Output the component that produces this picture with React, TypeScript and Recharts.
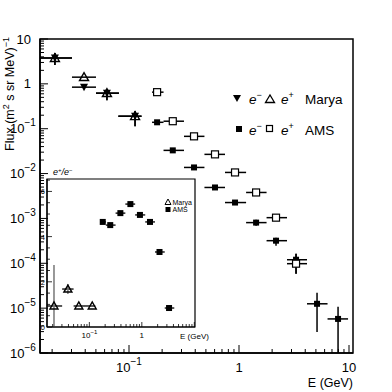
import React from 'react';
import { ScatterChart, Scatter, XAxis, YAxis, ErrorBar, ReferenceArea } from 'recharts';

const FONT = '"Liberation Sans", Arial, sans-serif';

// ---- Marya (balloon) data ----
const maryaEnergy = [0.0212, 0.039, 0.063, 0.1135];
const maryaEnergyLo = [0.0155, 0.0303, 0.0501, 0.08];
const maryaEnergyHi = [0.0303, 0.0501, 0.081, 0.13];
const maryaElectronFlux = [3.76, 0.844, 0.62, 0.19];
const maryaElectronLo = [2.62, 0.79, 0.43, 0.113];
const maryaElectronHi = [4.86, 0.9, 0.76, 0.245];
const maryaPositronFlux = [3.76, 1.41, 0.62, 0.19];
const maryaPositronLo = [2.62, 1.41, 0.43, 0.113];
const maryaPositronHi = [4.86, 1.41, 0.76, 0.245];

// ---- AMS data ----
const amsEnergy = [0.18, 0.25, 0.39, 0.605, 0.92, 1.43, 2.17, 3.3, 5.12, 7.95];
const amsEnergyLo = [0.162, 0.206, 0.316, 0.485, 0.746, 1.16, 1.78, 2.73, 4.15, 6.38];
const amsEnergyHi = [0.206, 0.316, 0.485, 0.746, 1.16, 1.78, 2.73, 4.15, 6.38, 9.8];
const amsElectronFlux = [0.139, 0.0329, 0.0137, 0.0049, 0.00226, 8.07e-4, 3.19e-4, 1.2e-4, 1.25e-5, 5.75e-6];
const amsElectronLo = [0.139, 0.0329, 0.0137, 0.0049, 0.00226, 6.9e-4, 2.47e-4, 5.83e-5, 2.94e-6, 1e-6];
const amsElectronHi = [0.139, 0.0329, 0.0137, 0.0049, 0.00226, 9.4e-4, 3.72e-4, 1.64e-4, 2.19e-5, 1.07e-5];
const amsPositronFlux = [0.653, 0.147, 0.0676, 0.0268, 0.0106, 0.00379, 0.00104, 9.8e-5];
const amsPositronLo = [0.653, 0.147, 0.0676, 0.0268, 0.0106, 0.00379, 0.00104, 5.83e-5];
const amsPositronHi = [0.653, 0.147, 0.0676, 0.0268, 0.0106, 0.00379, 0.00104, 1.64e-4];

// ---- e+/e- ratio (inset) ----
const maryaRatio = [0.93, 1.68, 0.93, 0.93];
const maryaRatioLo = [0, 1.46, 0.93, 0.93];
const maryaRatioHi = [2.74, 1.9, 0.93, 0.93];
const amsRatio = [4.65, 4.51, 5.04, 5.44, 4.96, 4.65, 3.32, 0.84];

// ---- axes ----
const X_DOMAIN: [number, number] = [0.01552, 10.87];
const Y_DOMAIN: [number, number] = [1e-6, 10];
const INSET_X_DOMAIN: [number, number] = [0.0156, 10.3];
const INSET_Y_DOMAIN: [number, number] = [0, 6.55];
const xDecades = [0.01, 0.1, 1];
const yDecades = [1e-6, 1e-5, 1e-4, 1e-3, 1e-2, 1e-1, 1];
const insetYLabels = [0, 2, 4, 6];

const logTicks = (decades: number[], lo: number, hi: number) => {
  const t: number[] = [];
  decades.forEach((d) => {
    for (let m = 1; m <= 9; m++) {
      const v = parseFloat((m * d).toPrecision(6));
      if (v >= lo && v <= hi) t.push(v);
    }
  });
  const top = decades[decades.length - 1] * 10;
  if (top >= lo && top <= hi) t.push(top);
  return t;
};
const xTicks = logTicks(xDecades, X_DOMAIN[0], X_DOMAIN[1]);
const yTicks = logTicks(yDecades, Y_DOMAIN[0], Y_DOMAIN[1]);
const insetXTicks = logTicks(xDecades, INSET_X_DOMAIN[0], INSET_X_DOMAIN[1]);
const insetYTicks: number[] = [];
for (let v = 0; v <= 6.5; v += 0.5) insetYTicks.push(v);

const build = (xs: number[], xlo: number[], xhi: number[], ys: number[], ylo: number[], yhi: number[]) =>
  ys.map((y, i) => ({
    x: xs[i],
    y,
    ex: [xs[i] - xlo[i], xhi[i] - xs[i]],
    ey: [y - ylo[i], yhi[i] - y],
  }));

const maryaElectronData = build(maryaEnergy, maryaEnergyLo, maryaEnergyHi, maryaElectronFlux, maryaElectronLo, maryaElectronHi);
const maryaPositronData = build(maryaEnergy, maryaEnergyLo, maryaEnergyHi, maryaPositronFlux, maryaPositronLo, maryaPositronHi);
const amsElectronData = build(amsEnergy, amsEnergyLo, amsEnergyHi, amsElectronFlux, amsElectronLo, amsElectronHi);
const amsPositronData = build(amsEnergy, amsEnergyLo, amsEnergyHi, amsPositronFlux, amsPositronLo, amsPositronHi);
const maryaRatioData = build(maryaEnergy, maryaEnergyLo, maryaEnergyHi, maryaRatio, maryaRatioLo, maryaRatioHi);
const amsRatioData = build(amsEnergy, amsEnergyLo, amsEnergyHi, amsRatio, amsRatio, amsRatio);

// ---- shapes ----
const DownTri = (p: any) => (
  <polygon points={`${p.cx - 4},${p.cy - 3.5} ${p.cx + 4},${p.cy - 3.5} ${p.cx},${p.cy + 4}`} fill="#000" />
);
const UpTri = (s: number) => (p: any) => (
  <polygon
    points={`${p.cx - s},${p.cy + s * 0.75} ${p.cx + s},${p.cy + s * 0.75} ${p.cx},${p.cy - s}`}
    fill="none"
    stroke="#000"
    strokeWidth={1.4}
  />
);
const FilledSq = (s: number) => (p: any) => <rect x={p.cx - s} y={p.cy - s} width={2 * s} height={2 * s} fill="#000" />;
const OpenSq = (p: any) => (
  <rect x={p.cx - 3.5} y={p.cy - 3.5} width={7} height={7} fill="#fff" stroke="#000" strokeWidth={1.2} />
);

const isMajor = (v: number) => {
  const l = Math.log10(v);
  return Math.abs(l - Math.round(l)) < 1e-6;
};
const supStr = (p: number) => (p < 0 ? '\u2212' + -p : String(p));

const MainYTick = (props: any) => {
  const { x, y, payload } = props;
  const v = payload.value;
  const major = isMajor(v);
  const p = Math.round(Math.log10(v));
  return (
    <g>
      <line x1={x} x2={x + (major ? 8 : 4)} y1={y} y2={y} stroke="#000" strokeWidth={1} />
      {major &&
        (p >= 0 ? (
          <text x={x - 9} y={y + 4.5} textAnchor="end" fontSize={13} fontFamily={FONT} fill="#000">
            {p === 0 ? '1' : '10'}
          </text>
        ) : (
          <text x={x - 30} y={y + 4.5} fontSize={13} fontFamily={FONT} fill="#000">
            10
            <tspan dy={-7} fontSize={10}>
              {supStr(p)}
            </tspan>
          </text>
        ))}
    </g>
  );
};

const MainXTick = (props: any) => {
  const { x, y, payload } = props;
  const v = payload.value;
  const major = isMajor(v);
  const p = Math.round(Math.log10(v));
  return (
    <g>
      <line x1={x} x2={x} y1={y} y2={y - (major ? 8 : 4)} stroke="#000" strokeWidth={1} />
      {major && (
        <text x={x} y={y + 18.5} textAnchor="middle" fontSize={13} fontFamily={FONT} fill="#000">
          {p === 0 ? '1' : '10'}
          {p < 0 && (
            <tspan dy={-7} fontSize={10}>
              {supStr(p)}
            </tspan>
          )}
        </text>
      )}
    </g>
  );
};

const InsetXTick = (props: any) => {
  const { x, y, payload } = props;
  const v = payload.value;
  const major = isMajor(v);
  const p = Math.round(Math.log10(v));
  return (
    <g>
      <line x1={x} x2={x} y1={y} y2={y - (major ? 5 : 3)} stroke="#000" strokeWidth={0.8} />
      {major && p <= 0 && (
        <text x={x} y={y + 11} textAnchor="middle" fontSize={8} fontFamily={FONT} fill="#000">
          {p === 0 ? '1' : '10'}
          {p < 0 && (
            <tspan dy={-4} fontSize={6}>
              {supStr(p)}
            </tspan>
          )}
        </text>
      )}
    </g>
  );
};

const InsetYTick = (props: any) => {
  const { x, y, payload } = props;
  const v = payload.value;
  const major = insetYLabels.includes(v);
  return (
    <g>
      <line x1={x} x2={x + (major ? 5 : 3)} y1={y} y2={y} stroke="#000" strokeWidth={0.8} />
      {major && (
        <text x={x - 2} y={y + 3} textAnchor="end" fontSize={7.5} fontFamily={FONT} fill="#000">
          {v}
        </text>
      )}
    </g>
  );
};

const EB = (props: any) => <ErrorBar width={0} stroke="#000" strokeWidth={1.5} {...props} />;

export default function App() {
  return (
    <div style={{ position: 'absolute', left: 0, top: 0, width: 392, height: 392, background: '#fff' }}>
      <ScatterChart width={392} height={392} margin={{ top: 39, right: 39, bottom: 0, left: 0 }}>
        <XAxis
          type="number"
          dataKey="x"
          scale="log"
          domain={X_DOMAIN}
          allowDataOverflow
          ticks={xTicks}
          interval={0}
          tick={<MainXTick />}
          tickSize={0}
          tickMargin={0}
          tickLine={false}
          axisLine={{ stroke: '#000', strokeWidth: 1.5 }}
          height={39}
        />
        <YAxis
          type="number"
          dataKey="y"
          scale="log"
          domain={Y_DOMAIN}
          allowDataOverflow
          ticks={yTicks}
          interval={0}
          tick={<MainYTick />}
          tickSize={0}
          tickMargin={0}
          tickLine={false}
          axisLine={{ stroke: '#000', strokeWidth: 1.5 }}
          width={40}
        />
        <ReferenceArea
          x1={X_DOMAIN[0]}
          x2={X_DOMAIN[1]}
          y1={Y_DOMAIN[0]}
          y2={Y_DOMAIN[1]}
          fill="none"
          fillOpacity={0}
          stroke="#000"
          strokeWidth={1.5}
          ifOverflow="visible"
        />
        <Scatter data={maryaElectronData} shape={DownTri} isAnimationActive={false}>
          <ErrorBar dataKey="ex" direction="x" width={0} stroke="#000" strokeWidth={1.5} />
          <ErrorBar dataKey="ey" direction="y" width={0} stroke="#000" strokeWidth={1.5} />
        </Scatter>
        <Scatter data={maryaPositronData} shape={UpTri(4.5)} isAnimationActive={false}>
          <ErrorBar dataKey="ex" direction="x" width={0} stroke="#000" strokeWidth={1.5} />
          <ErrorBar dataKey="ey" direction="y" width={0} stroke="#000" strokeWidth={1.5} />
        </Scatter>
        <Scatter data={amsElectronData} shape={FilledSq(3)} isAnimationActive={false}>
          <ErrorBar dataKey="ex" direction="x" width={0} stroke="#000" strokeWidth={1.5} />
          <ErrorBar dataKey="ey" direction="y" width={0} stroke="#000" strokeWidth={1.5} />
        </Scatter>
        <Scatter data={amsPositronData} shape={OpenSq} isAnimationActive={false}>
          <ErrorBar dataKey="ex" direction="x" width={0} stroke="#000" strokeWidth={1.5} />
          <ErrorBar dataKey="ey" direction="y" width={0} stroke="#000" strokeWidth={1.5} />
        </Scatter>
      </ScatterChart>

      <div style={{ position: 'absolute', left: 27, top: 160 }}>
        <ScatterChart width={200} height={190} margin={{ top: 19, right: 32, bottom: 0, left: 0 }}>
          <XAxis
            type="number"
            dataKey="x"
            scale="log"
            domain={INSET_X_DOMAIN}
            allowDataOverflow
            ticks={insetXTicks}
            interval={0}
            tick={<InsetXTick />}
            tickSize={0}
            tickMargin={0}
            tickLine={false}
            axisLine={{ stroke: '#000', strokeWidth: 1.2 }}
            height={23}
          />
          <YAxis
            type="number"
            dataKey="y"
            domain={INSET_Y_DOMAIN}
            allowDataOverflow
            ticks={insetYTicks}
            interval={0}
            tick={<InsetYTick />}
            tickSize={0}
            tickMargin={0}
            tickLine={false}
            axisLine={{ stroke: '#000', strokeWidth: 1.2 }}
            width={20}
          />
          <ReferenceArea
            x1={INSET_X_DOMAIN[0]}
            x2={INSET_X_DOMAIN[1]}
            y1={INSET_Y_DOMAIN[0]}
            y2={INSET_Y_DOMAIN[1]}
            fill="none"
            fillOpacity={0}
            stroke="#000"
            strokeWidth={1.2}
            ifOverflow="visible"
          />
          <Scatter data={maryaRatioData} shape={UpTri(4)} isAnimationActive={false}>
            <ErrorBar dataKey="ex" direction="x" width={0} stroke="#000" strokeWidth={1.3} />
            <ErrorBar dataKey="ey" direction="y" width={0} stroke="#777" strokeWidth={1.5} />
          </Scatter>
          <Scatter data={amsRatioData} shape={FilledSq(3)} isAnimationActive={false}>
            <ErrorBar dataKey="ex" direction="x" width={0} stroke="#000" strokeWidth={1.3} />
          </Scatter>
        </ScatterChart>
      </div>

      <svg
        width={392}
        height={392}
        style={{ position: 'absolute', left: 0, top: 0, pointerEvents: 'none' }}
        fontFamily={FONT}
      >
        {/* Y axis title */}
        <text transform="translate(13.5,94) rotate(-90)" textAnchor="middle" fontSize={12.5} fill="#000">
          Flux (m
          <tspan dy={-5} fontSize={9}>
            2
          </tspan>
          <tspan dy={5}> s sr MeV)</tspan>
          <tspan dy={-5} fontSize={9}>
            {'\u22121'}
          </tspan>
        </text>
        {/* X axis title */}
        <text x={353} y={387} textAnchor="end" fontSize={12.5} fill="#000">
          E (GeV)
        </text>
        {/* main legend */}
        <polygon points="233,95 241,95 237,102" fill="#000" />
        <text x={249} y={104} fontSize={13.5} fontStyle="italic" fill="#000">
          e<tspan dy={-6} fontSize={9} fontStyle="normal">{'\u2212'}</tspan>
        </text>
        <polygon points="265.5,102.5 274.5,102.5 270,95" fill="none" stroke="#000" strokeWidth={1.3} />
        <text x={281} y={104} fontSize={13.5} fontStyle="italic" fill="#000">
          e<tspan dy={-6} fontSize={9} fontStyle="normal">+</tspan>
        </text>
        <text x={305} y={104} fontSize={13.5} fill="#000">
          Marya
        </text>
        <rect x={236} y={126} width={6} height={6} fill="#000" />
        <text x={249} y={135} fontSize={13.5} fontStyle="italic" fill="#000">
          e<tspan dy={-6} fontSize={9} fontStyle="normal">{'\u2212'}</tspan>
        </text>
        <rect x={266.5} y={125.5} width={6} height={6} fill="none" stroke="#000" strokeWidth={1.2} />
        <text x={281} y={135} fontSize={13.5} fontStyle="italic" fill="#000">
          e<tspan dy={-6} fontSize={9} fontStyle="normal">+</tspan>
        </text>
        <text x={305} y={135} fontSize={13.5} fill="#000">
          AMS
        </text>
        {/* inset annotations */}
        <text x={53} y={175} fontSize={9} fontStyle="italic" fill="#000">
          e<tspan dy={-3} fontSize={6}>+</tspan>
          <tspan dy={3}>/e</tspan>
          <tspan dy={-3} fontSize={6}>{'\u2212'}</tspan>
        </text>
        <text x={180} y={339} fontSize={8} fill="#000">
          E (GeV)
        </text>
        <polygon points="165,204.5 171,204.5 168,199" fill="none" stroke="#000" strokeWidth={1} />
        <text x={172.5} y={205} fontSize={7} fill="#000">
          Marya
        </text>
        <rect x={165.5} y={207} width={5} height={5} fill="#000" />
        <text x={172.5} y={212} fontSize={7} fill="#000">
          AMS
        </text>
      </svg>
    </div>
  );
}
